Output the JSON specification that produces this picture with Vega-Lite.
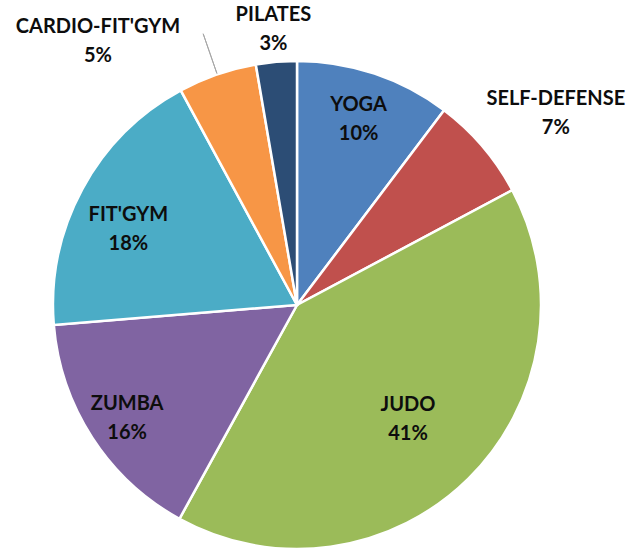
{
  "$schema": "https://vega.github.io/schema/vega-lite/v6.json",
  "width": 594,
  "height": 490,
  "autosize": {"type": "none"},
  "padding": {"left": 0, "top": 60, "right": 35, "bottom": 0},
  "background": "white",
  "config": {"view": {"stroke": null}},
  "data": {
    "values": [
      {"activity": "YOGA", "share": 10.3},
      {"activity": "SELF-DEFENSE", "share": 6.9},
      {"activity": "JUDO", "share": 40.8},
      {"activity": "ZUMBA", "share": 15.7},
      {"activity": "FIT'GYM", "share": 18.4},
      {"activity": "CARDIO-FIT'GYM", "share": 5.2},
      {"activity": "PILATES", "share": 2.7}
    ]
  },
  "transform": [
    {"window": [{"op": "row_number", "as": "idx"}]},
    {"stack": "share", "groupby": [], "sort": [{"field": "idx", "order": "ascending"}], "as": ["s0", "s1"]},
    {"calculate": "(datum.s0 + datum.s1) / 2", "as": "mid"},
    {"calculate": "datum.activity + '\\n' + format(datum.share, '.0f') + '%'", "as": "label"}
  ],
  "layer": [
    {
      "mark": {"type": "arc", "radius": 244, "stroke": "white", "strokeWidth": 2.5},
      "encoding": {
        "theta": {"field": "s0", "type": "quantitative", "scale": {"domain": [0, 100]}},
        "theta2": {"field": "s1"},
        "color": {
          "field": "activity",
          "type": "nominal",
          "legend": null,
          "scale": {
            "domain": ["YOGA", "SELF-DEFENSE", "JUDO", "ZUMBA", "FIT'GYM", "CARDIO-FIT'GYM", "PILATES"],
            "range": ["#4F81BD", "#C0504D", "#9BBB59", "#8064A2", "#4BACC6", "#F79646", "#2C4D75"]
          }
        }
      }
    },
    {
      "transform": [{"filter": "datum.activity === 'CARDIO-FIT\\'GYM'"}],
      "mark": {"type": "arc", "radius": 287, "radius2": 245, "filled": false, "stroke": "#a6a6a6", "strokeWidth": 1},
      "encoding": {
        "theta": {"field": "mid", "type": "quantitative", "scale": {"domain": [0, 100]}},
        "theta2": {"field": "mid"}
      }
    },
    {
      "transform": [{"filter": "datum.activity === 'YOGA' || datum.activity === 'ZUMBA'"}],
      "mark": {"type": "text", "radius": 200, "dx": -2, "dy": -10, "font": "Lato", "fontWeight": "bold", "fontSize": 20, "lineBreak": "\n", "lineHeight": 29, "align": "center", "baseline": "middle", "color": "#0d0d0d"},
      "encoding": {
        "theta": {"field": "mid", "type": "quantitative", "scale": {"domain": [0, 100]}},
        "text": {"field": "label", "type": "nominal"}
      }
    },
    {
      "transform": [{"filter": "datum.activity === 'JUDO'"}],
      "mark": {"type": "text", "radius": 158, "dy": -12.5, "font": "Lato", "fontWeight": "bold", "fontSize": 20, "lineBreak": "\n", "lineHeight": 29, "align": "center", "baseline": "middle", "color": "#0d0d0d"},
      "encoding": {
        "theta": {"field": "mid", "type": "quantitative", "scale": {"domain": [0, 100]}},
        "text": {"field": "label", "type": "nominal"}
      }
    },
    {
      "transform": [{"filter": "datum.activity === 'FIT\\'GYM'"}],
      "mark": {"type": "text", "radius": 185, "dx": -6, "dy": -1.5, "font": "Lato", "fontWeight": "bold", "fontSize": 20, "lineBreak": "\n", "lineHeight": 29, "align": "center", "baseline": "middle", "color": "#0d0d0d"},
      "encoding": {
        "theta": {"field": "mid", "type": "quantitative", "scale": {"domain": [0, 100]}},
        "text": {"field": "label", "type": "nominal"}
      }
    },
    {
      "transform": [{"filter": "datum.activity === 'SELF-DEFENSE'"}],
      "mark": {"type": "text", "radius": 322, "dx": 14, "dy": 3.5, "font": "Lato", "fontWeight": "bold", "fontSize": 20, "lineBreak": "\n", "lineHeight": 29, "align": "center", "baseline": "middle", "color": "#0d0d0d"},
      "encoding": {
        "theta": {"field": "mid", "type": "quantitative", "scale": {"domain": [0, 100]}},
        "text": {"field": "label", "type": "nominal"}
      }
    },
    {
      "transform": [{"filter": "datum.activity === 'CARDIO-FIT\\'GYM'"}],
      "mark": {"type": "text", "radius": 300, "dx": -101, "dy": 5.5, "font": "Lato", "fontWeight": "bold", "fontSize": 20, "lineBreak": "\n", "lineHeight": 29, "align": "center", "baseline": "middle", "color": "#0d0d0d"},
      "encoding": {
        "theta": {"field": "mid", "type": "quantitative", "scale": {"domain": [0, 100]}},
        "text": {"field": "label", "type": "nominal"}
      }
    },
    {
      "transform": [{"filter": "datum.activity === 'PILATES'"}],
      "mark": {"type": "text", "radius": 278, "dy": -13, "font": "Lato", "fontWeight": "bold", "fontSize": 20, "lineBreak": "\n", "lineHeight": 29, "align": "center", "baseline": "middle", "color": "#0d0d0d"},
      "encoding": {
        "theta": {"field": "mid", "type": "quantitative", "scale": {"domain": [0, 100]}},
        "text": {"field": "label", "type": "nominal"}
      }
    }
  ]
}
